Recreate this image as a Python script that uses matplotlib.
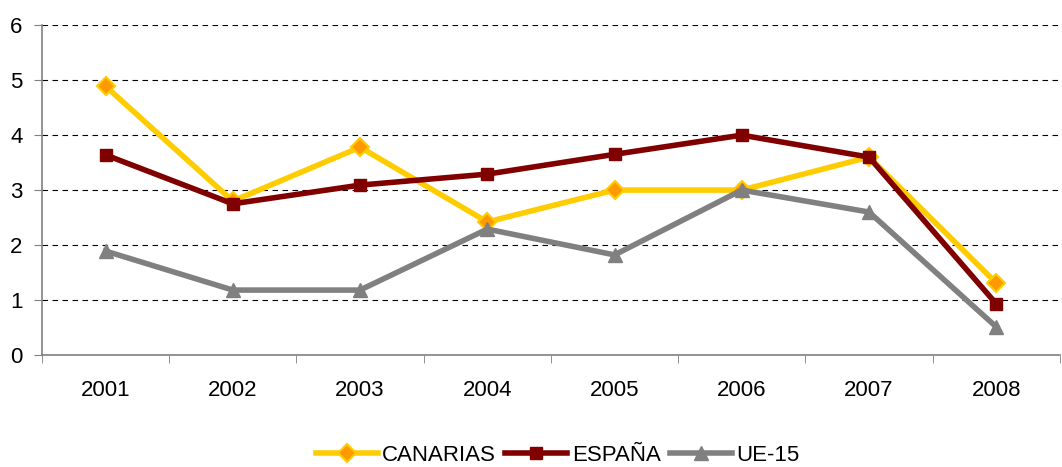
import matplotlib
matplotlib.use("Agg")
from matplotlib import pyplot as plt
import numpy as np

plt.rcParams['font.family'] = ['Liberation Sans', 'DejaVu Sans']

years = ['2001', '2002', '2003', '2004', '2005', '2006', '2007', '2008']
canarias = [4.89, 2.8, 3.78, 2.42, 3.0, 3.0, 3.6, 1.31]
espana = [3.64, 2.75, 3.09, 3.29, 3.65, 4.0, 3.6, 0.93]
ue15 = [1.89, 1.18, 1.18, 2.29, 1.82, 3.0, 2.6, 0.51]

fig = plt.figure(figsize=(10.62, 4.67), dpi=100)
ax = fig.add_axes([0.0395, 0.24, 0.9585, 0.706])

x = np.arange(len(years))
ax.plot(x, canarias, '-D', color='#FFCC00', lw=4, ms=9,
        mfc='#FF9900', mec='#FFCC00', mew=1.5, label='CANARIAS')
ax.plot(x, espana, '-s', color='#800000', lw=4, ms=9,
        mfc='#800000', mec='#800000', label='ESPAÑA')
ax.plot(x, ue15, '-^', color='#808080', lw=4, ms=10,
        mfc='#808080', mec='#808080', label='UE-15')

ax.set_xlim(-0.5, len(years) - 0.5)
ax.set_ylim(0, 6)
ax.set_yticks(range(0, 7))
ax.yaxis.grid(True, linestyle=(0, (5, 4)), color='black', lw=0.8)
ax.set_axisbelow(True)

ax.set_xticks(x)
ax.set_xticklabels(years)
ax.set_xticks(np.arange(-0.5, len(years)), minor=True)
ax.tick_params(axis='x', which='major', length=0, pad=18, labelsize=16)
ax.tick_params(axis='x', which='minor', length=6, direction='out', color='#808080')
ax.tick_params(axis='y', length=6, direction='out', color='#808080', labelsize=16, pad=8)

for s in ['top', 'right']:
    ax.spines[s].set_visible(False)
for s in ['left', 'bottom']:
    ax.spines[s].set_color('#808080')
    ax.spines[s].set_linewidth(1.2)

fig.legend(loc='lower center', ncol=3, frameon=False, fontsize=16,
           bbox_to_anchor=(0.525, -0.035), handlelength=2.8, handletextpad=0.2,
           columnspacing=0.4, borderpad=0.3)

fig.savefig('out.png', dpi=100)
